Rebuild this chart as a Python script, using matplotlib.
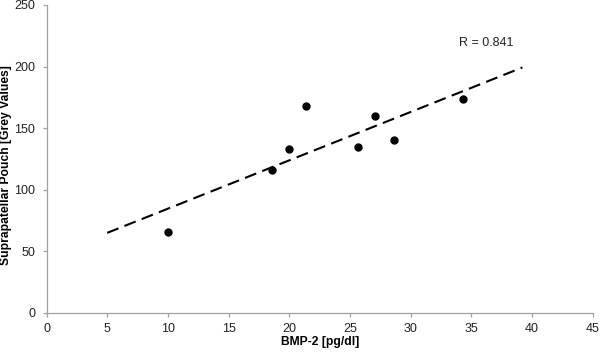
import numpy as np
import matplotlib
matplotlib.use("Agg")
import matplotlib.pyplot as plt

plt.rcParams['font.family'] = ['Liberation Sans', 'DejaVu Sans']

bmp2 = [10.0, 18.6, 20.0, 21.4, 25.7, 27.1, 28.6, 34.3]
grey = [66, 116, 133, 168, 135, 160, 140, 174]
trend_x = [5.0, 39.2]
r_label = "R = 0.841"
xticks = list(range(0, 50, 5))
yticks = list(range(0, 300, 50))

fig = plt.figure(figsize=(6, 3.56), dpi=100)
ax = fig.add_axes([0.0775, 0.121, 0.9105, 0.865])

slope, intercept = np.polyfit(bmp2, grey, 1)
tx = np.array(trend_x)
ax.plot(tx, slope * tx + intercept, color='black', lw=1.5, dashes=(5.8, 3.1))
ax.plot(bmp2, grey, 'o', color='black', markersize=5, zorder=3)

ax.set_xlim(0, 45)
ax.set_ylim(0, 250)
ax.set_xticks(xticks)
ax.set_yticks(yticks)
for s in ['top', 'right']:
    ax.spines[s].set_visible(False)
for s in ['left', 'bottom']:
    ax.spines[s].set_color('#a0a0a0')
    ax.spines[s].set_linewidth(0.9)
ax.tick_params(axis='both', direction='out', length=3, width=0.9, color='#a0a0a0',
               labelsize=9, labelcolor='#222222')
ax.tick_params(axis='x', pad=4)
ax.tick_params(axis='y', pad=5)

ax.set_xlabel('BMP-2 [pg/dl]', fontsize=8.7, fontweight='bold', va='center')
ax.xaxis.set_label_coords(0.5, -0.094)
ax.set_ylabel('Suprapatellar Pouch [Grey Values]', fontsize=8.7, fontweight='bold', va='center')
ax.yaxis.set_label_coords(-0.074, 0.48)

ax.text(34.0, 219, r_label, fontsize=9, color='#222222', ha='left', va='center')

fig.savefig('out.png', dpi=100)
